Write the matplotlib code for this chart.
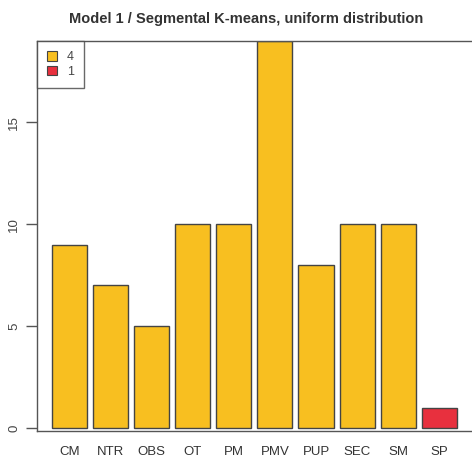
import matplotlib
matplotlib.use("Agg")
import matplotlib.pyplot as plt
from matplotlib.patches import Patch

categories = ["CM", "NTR", "OBS", "OT", "PM", "PMV", "PUP", "SEC", "SM", "SP"]
values = [9, 7, 5, 10, 10, 19, 8, 10, 10, 1]
groups = ["4", "4", "4", "4", "4", "4", "4", "4", "4", "1"]
group_colors = {"4": "#F8BF20", "1": "#E8303E"}
legend_labels = ["4", "1"]
yticks = [0, 5, 10, 15]

plt.rcParams['font.family'] = ['Liberation Sans', 'DejaVu Sans']

fig = plt.figure(figsize=(4.72, 4.59), dpi=100)
ax = fig.add_axes([37/472, 1-431/459, 1.002-37/472, (431-41)/459])

x = list(range(len(categories)))
ax.bar(x, values, width=0.854, color=[group_colors[g] for g in groups],
       edgecolor="#444444", linewidth=1.0, zorder=2)
ax.set_xlim(-0.793, 9.82)
ax.set_ylim(-0.15, 19)

for s in ["left", "top", "bottom"]:
    ax.spines[s].set_color("#555555")
    ax.spines[s].set_linewidth(1.0)
ax.spines["right"].set_visible(False)

ax.set_yticks(yticks)
ax.set_yticklabels([str(t) for t in yticks], rotation=90, va="center",
                   fontsize=9.5, color="#444444")
ax.tick_params(axis="y", length=8, width=1, color="#555555", pad=4)
ax.set_xticks(x)
ax.set_xticklabels(categories, fontsize=9.5, color="#333333")
ax.tick_params(axis="x", length=0, pad=11)

fig.text(246/472, 1-19/459, "Model 1 / Segmental K-means, uniform distribution",
         fontsize=10.5, fontweight="bold", color="#333333", ha="center", va="center")

handles = [Patch(facecolor=group_colors[g], edgecolor="#444444", linewidth=0.8) for g in legend_labels]
leg = ax.legend(handles, legend_labels, loc="upper left", fontsize=9,
                frameon=True, fancybox=False, edgecolor="#444444",
                handlelength=0.8, handleheight=0.8, handletextpad=0.8,
                borderaxespad=0, borderpad=0.8, labelspacing=0.2)
leg.get_frame().set_linewidth(1.0)
for t in leg.get_texts():
    t.set_color("#444444")

fig.savefig("out.png", dpi=100)
